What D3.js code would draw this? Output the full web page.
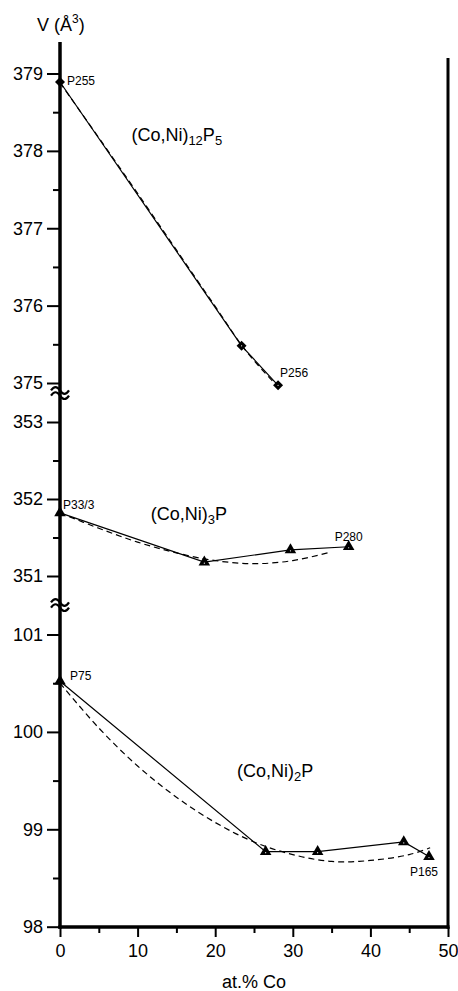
<!DOCTYPE html>
<html>
<head>
<meta charset="utf-8">
<script src="https://cdn.jsdelivr.net/npm/d3@7"></script>
<style>
body { margin: 0; background: #fff; }
text { font-family: "Liberation Sans", Arial, sans-serif; fill: #000; }
</style>
</head>
<body>
<script>
// (Co,Ni)12P5 - diamonds
var x12 = [0, 23.4, 28.1];
var v12 = [378.89, 375.48, 374.97];
var fitX12 = [0, 5, 10, 15, 20, 24, 28.1];
var fitV12 = [378.88, 378.17, 377.45, 376.72, 375.99, 375.41, 374.95];

// (Co,Ni)3P - triangles
var x3 = [0, 18.6, 29.7, 37.2];
var v3 = [351.82, 351.18, 351.34, 351.38];
var fitX3 = [0, 5, 10, 15, 20, 25, 30, 34.5];
var fitV3 = [351.82, 351.62, 351.44, 351.30, 351.20, 351.16, 351.20, 351.30];

// (Co,Ni)2P - triangles
var x2 = [0, 26.5, 33.2, 44.3, 47.55];
var v2 = [100.52, 98.77, 98.77, 98.87, 98.72];
var fitX2 = [0, 5, 10, 15, 20, 25, 30, 35, 40, 45, 47.7];
var fitV2 = [100.5, 100.04, 99.65, 99.33, 99.07, 98.87, 98.74, 98.67, 98.68, 98.74, 98.81];

var xTicks = [0, 10, 20, 30, 40, 50];
var xMinor = [5, 15, 25, 35, 45];
var topTicks = [375, 376, 377, 378, 379];
var topMinor = [375.5, 376.5, 377.5, 378.5];
var midTicks = [351, 352, 353];
var midMinor = [351.5, 352.5];
var botTicks = [98, 99, 100, 101];
var botMinor = [98.5, 99.5, 100.5];

var width = 458, height = 991;
var svg = d3.select("body").append("svg")
    .attr("width", width)
    .attr("height", height);

var x = d3.scaleLinear().domain([0, 50]).range([60, 448]);
var yTop = d3.scaleLinear().domain([375, 379]).range([383, 73.5]);
var yMid = d3.scaleLinear().domain([351, 353]).range([576, 422]);
var yBot = d3.scaleLinear().domain([98, 101]).range([926.7, 634.5]);

var axisY = 927;

function tidy(g) {
  g.selectAll(".domain").remove();
  g.selectAll("line").attr("stroke-width", 2);
  g.selectAll("text").style("font-size", "18px").attr("font-family", null);
}

// left axis segments
function leftAxis(scale, major, minor) {
  var g = svg.append("g").attr("transform", "translate(60,0)");
  g.call(d3.axisLeft(scale).tickValues(major).tickSize(13).tickPadding(4).tickFormat(d3.format("d")));
  tidy(g);
  var m = svg.append("g").attr("transform", "translate(60,0)");
  m.call(d3.axisLeft(scale).tickValues(minor).tickSize(7).tickFormat(""));
  tidy(m);
}
leftAxis(yTop, topTicks, topMinor);
leftAxis(yMid, midTicks, midMinor);
leftAxis(yBot, botTicks, botMinor);

// bottom axis
var gx = svg.append("g").attr("transform", "translate(0," + axisY + ")");
gx.call(d3.axisBottom(x).tickValues(xTicks).tickSize(10).tickPadding(7));
tidy(gx);
var gm = svg.append("g").attr("transform", "translate(0," + axisY + ")");
gm.call(d3.axisBottom(x).tickValues(xMinor).tickSize(6).tickFormat(""));
tidy(gm);

// axis frame lines
svg.append("line").attr("x1", 60).attr("x2", 60).attr("y1", 42).attr("y2", axisY + 1.7)
   .attr("stroke", "#000").attr("stroke-width", 3.5);
svg.append("line").attr("x1", 448).attr("x2", 448).attr("y1", 58).attr("y2", axisY + 1.7)
   .attr("stroke", "#000").attr("stroke-width", 3);
svg.append("line").attr("x1", 58.3).attr("x2", 449.5).attr("y1", axisY).attr("y2", axisY)
   .attr("stroke", "#000").attr("stroke-width", 3.5);

// axis break marks
[393, 605].forEach(function(by) {
  [-2.6, 2.6].forEach(function(o) {
    svg.append("path")
      .attr("d", "M51," + (by + o) + " c3,-4.5 6,-4.5 9,0 s6,4.5 9,0")
      .attr("fill", "none").attr("stroke", "#000").attr("stroke-width", 2.2);
  });
});

// axis titles
var vt = svg.append("text").attr("x", 37).attr("y", 31).style("font-size", "18px");
vt.append("tspan").text("V (Å");
vt.append("tspan").text("3").style("font-size", "12px").attr("dy", -8);
vt.append("tspan").text(")").attr("dy", 8);

svg.append("text").attr("x", 254).attr("y", 988).attr("text-anchor", "middle")
   .style("font-size", "18px").text("at.% Co");

// series
function series(xs, vs, fx, fv, scale, symbol, size, rot) {
  var pts = xs.map(function(d, i) { return [x(d), scale(vs[i])]; });
  var fit = fx.map(function(d, i) { return [x(d), scale(fv[i])]; });
  svg.append("path")
    .attr("d", d3.line().curve(d3.curveCatmullRom)(fit))
    .attr("fill", "none").attr("stroke", "#000").attr("stroke-width", 1.2)
    .attr("stroke-dasharray", "6,4");
  svg.append("path")
    .attr("d", d3.line()(pts))
    .attr("fill", "none").attr("stroke", "#000").attr("stroke-width", 1.2);
  svg.selectAll(null).data(pts).enter().append("path")
    .attr("d", d3.symbol().type(symbol).size(size))
    .attr("transform", function(d) { return "translate(" + d[0] + "," + d[1] + ") rotate(" + rot + ")"; })
    .attr("fill", "#000");
  svg.selectAll(null).data(pts.slice(1)).enter().append("circle")
    .attr("cx", function(d) { return d[0]; })
    .attr("cy", function(d) { return d[1] + (rot ? 0 : 1); })
    .attr("r", 0.6).attr("fill", "#fff");
}
series(x12, v12, fitX12, fitV12, yTop, d3.symbolSquare, 50, 45);
series(x3, v3, fitX3, fitV3, yMid, d3.symbolTriangle, 58, 0);
series(x2, v2, fitX2, fitV2, yBot, d3.symbolTriangle, 58, 0);

// point labels
function ptLabel(txt, px, py, dx, dy) {
  svg.append("text").attr("x", px + dx).attr("y", py + dy)
     .style("font-size", "12px").text(txt);
}
ptLabel("P255", x(x12[0]), yTop(v12[0]), 7, 3);
ptLabel("P256", x(x12[2]), yTop(v12[2]), 2, -8);
ptLabel("P33/3", x(x3[0]), yMid(v3[0]), 3, -4);
ptLabel("P280", x(x3[3]), yMid(v3[3]), -14, -6);
ptLabel("P75", x(x2[0]), yBot(v2[0]), 10, -1);
ptLabel("P165", x(x2[4]), yBot(v2[4]), -19, 19);

// series labels
function seriesLabel(px, py, a, sub, b, sub2) {
  var t = svg.append("text").attr("x", px).attr("y", py).style("font-size", "18px");
  t.append("tspan").text(a);
  t.append("tspan").text(sub).style("font-size", "13px").attr("dy", 4);
  t.append("tspan").text(b).attr("dy", -4);
  if (sub2) t.append("tspan").text(sub2).style("font-size", "13px").attr("dy", 4);
}
seriesLabel(x(9.2), yTop(378.2) + 6, "(Co,Ni)", "12", "P", "5");
seriesLabel(x(11.7), yMid(351.8) + 6, "(Co,Ni)", "3", "P");
seriesLabel(x(22.8), yBot(99.6) + 6, "(Co,Ni)", "2", "P");
</script>
</body>
</html>
